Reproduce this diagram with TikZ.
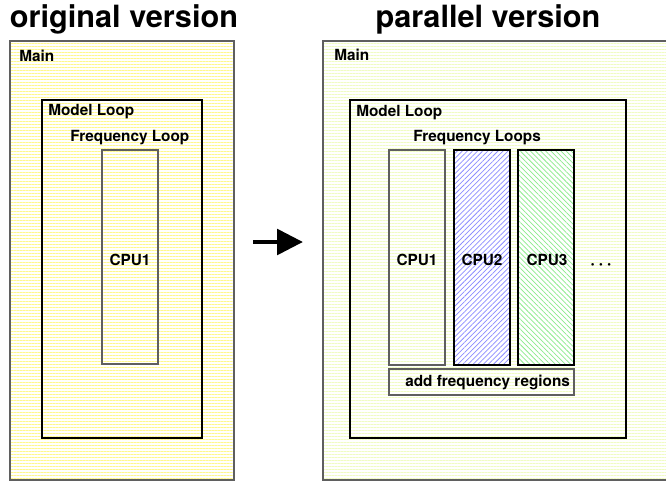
\documentclass[tikz,border=0pt]{standalone}
\usepackage{fontspec}
\setmainfont{TeX Gyre Heros}
\usetikzlibrary{patterns.meta,arrows.meta,positioning}

\definecolor{mainyellow}{RGB}{255,248,140}
\definecolor{paleyellow}{RGB}{240,252,195}
\definecolor{hatchblue}{RGB}{140,140,255}
\definecolor{hatchgreen}{RGB}{140,235,140}
\definecolor{edgegray}{RGB}{95,95,95}

\begin{document}
\begin{tikzpicture}[x=0.75pt,y=-0.75pt,
	ttl/.style={font=\fontsize{23}{26}\selectfont\bfseries, anchor=base, inner sep=0pt},
	lbl/.style={font=\fontsize{11.5}{13}\selectfont\bfseries, anchor=base west, inner sep=0pt},
	cpulbl/.style={font=\fontsize{11.5}{13}\selectfont\bfseries, anchor=base, inner sep=0pt},
	outerbox/.style={draw=edgegray, line width=0.9pt, pattern={Lines[angle=0,distance=2.25pt,line width=0.55pt]}, pattern color=#1},
	loopbox/.style={draw=black, line width=0.8pt},
	cpubox/.style={draw=edgegray, line width=0.9pt},
	hatchbox/.style 2 args={draw=black, line width=0.8pt, preaction={fill=white}, pattern={Lines[angle=#1,distance=2.7pt,line width=0.55pt]}, pattern color=#2},
	bigarrow/.style={line width=3.6pt, -{Triangle[length=19.5pt,width=19pt]}}
]
	\useasboundingbox (0,0) rectangle (666,481);

	% titles
	\node[ttl] (orig) at (124,28) {original version};
	\node[ttl] (par) at (488,28) {parallel version};

	% original version
	\draw[outerbox=mainyellow] (10,41) rectangle (234,480);
	\draw[loopbox] (42,100) rectangle (202,438);
	\draw[cpubox] (102,150) rectangle (158,364);
	\node[lbl] (main1) at (19,62) {Main};
	\node[lbl] (model1) at (48,116) {Model Loop};
	\node[lbl] (freq1) at (70,142) {Frequency Loop};
	\node[cpulbl] (cpu1a) at (130,265) {CPU1};

	% arrow between the two versions
	\coordinate (arrs) at (253,242);
	\coordinate (arre) at (303,242);
	\draw[bigarrow] (arrs) -- (arre);

	% parallel version
	\draw[outerbox=paleyellow] (323,41) rectangle (670,480);
	\draw[loopbox] (350,100) rectangle (626,438);
	\draw[cpubox] (389,150) rectangle (445,365);
	\draw[hatchbox={45}{hatchblue}] (454,150) rectangle (510,365);
	\draw[hatchbox={-45}{hatchgreen}] (518,150) rectangle (574,365);
	\draw[cpubox] (389,369) rectangle (574,395);
	\node[lbl] (main2) at (334,61) {Main};
	\node[lbl] (model2) at (356,117) {Model Loop};
	\node[lbl] (freq2) at (413,142) {Frequency Loops};
	\node[cpulbl] (cpu1b) at (417,265) {CPU1};
	\node[cpulbl] (cpu2b) at (482,265) {CPU2};
	\node[cpulbl] (cpu3b) at (547,265) {CPU3};
	\node[lbl] (addreg) at (405,386) {add frequency regions};
	\node[font=\fontsize{8}{8}\selectfont, inner sep=0pt] (dots) at (601,266) {\textbullet\hspace{3.4pt}\textbullet\hspace{3.4pt}\textbullet};
\end{tikzpicture}
\end{document}
